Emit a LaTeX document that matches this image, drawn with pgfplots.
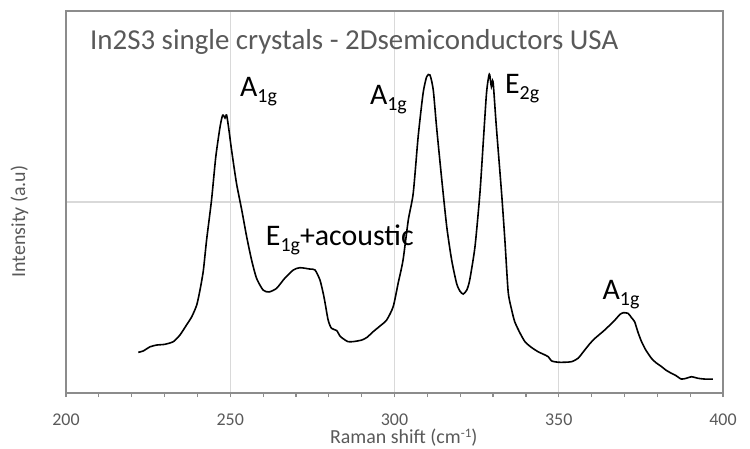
\documentclass[border=0pt]{standalone}
\usepackage{pgfplots}
\pgfplotsset{compat=1.18}
\usepackage{fontspec}
\setmainfont{Carlito}
\definecolor{gridc}{HTML}{D9D9D9}
\definecolor{framec}{HTML}{8C8C8C}
\definecolor{textc}{HTML}{595959}
\newcommand\sub[1]{\raisebox{-6bp}{\fontsize{20}{22}\selectfont #1}}
\pgfplotstableread{
x y
222.0 0.213
223.5 0.220
225.6 0.242
227.6 0.251
230.1 0.255
232.7 0.269
234.7 0.304
236.5 0.351
238.3 0.400
239.8 0.461
240.8 0.540
241.8 0.640
242.8 0.801
244.3 1.010
245.6 1.237
246.9 1.394
247.7 1.455
248.4 1.440
248.9 1.455
249.6 1.377
250.4 1.272
251.9 1.098
253.5 0.958
255.0 0.818
256.5 0.696
258.0 0.601
260.0 0.539
261.8 0.529
264.1 0.548
266.6 0.601
269.2 0.644
271.2 0.656
274.2 0.649
275.8 0.644
277.3 0.592
278.3 0.522
278.8 0.478
279.8 0.382
280.8 0.339
282.4 0.327
283.4 0.298
284.4 0.284
285.8 0.269
287.4 0.269
290.0 0.277
291.6 0.291
293.5 0.321
295.6 0.351
297.6 0.382
299.6 0.452
301.1 0.574
302.6 0.696
304.2 0.906
305.7 1.046
307.2 1.342
308.7 1.569
309.8 1.656
310.8 1.665
311.8 1.586
312.8 1.394
314.3 1.132
315.9 0.871
317.4 0.696
318.9 0.574
319.9 0.534
320.9 0.518
322.0 0.539
322.9 0.592
324.5 0.766
326.0 1.046
327.0 1.308
328.0 1.569
328.7 1.660
329.0 1.665
329.5 1.604
330.0 1.630
331.0 1.394
332.6 1.046
333.6 0.801
334.6 0.530
335.6 0.440
336.6 0.373
338.2 0.314
339.7 0.269
341.5 0.241
343.7 0.216
345.2 0.204
346.8 0.190
347.8 0.168
349.8 0.161
351.8 0.161
353.9 0.164
355.9 0.182
357.9 0.225
359.5 0.259
361.0 0.286
364.0 0.330
367.1 0.382
368.6 0.411
369.6 0.420
371.1 0.417
372.2 0.393
373.1 0.373
374.1 0.319
375.2 0.269
376.5 0.225
378.2 0.182
379.5 0.160
381.3 0.138
382.6 0.120
384.3 0.103
385.6 0.092
387.3 0.073
388.8 0.077
390.4 0.085
392.4 0.077
394.4 0.073
396.9 0.073
}\ramandata
\begin{document}
\begin{tikzpicture}
\begin{axis}[
  at={(66bp,56bp)}, anchor=south west,
  scale only axis, width=657bp, height=382bp,
  xmin=200, xmax=400, ymin=0, ymax=2,
  xtick={200,250,...,400},
  minor xtick={210,220,...,390},
  xtick pos=bottom,
  tick align=outside,
  major tick length=4bp, minor tick length=4bp,
  ytick={1}, yticklabels={}, ytick style={draw=none},
  xmajorgrids, ymajorgrids,
  major grid style={draw=gridc, line width=1.2bp},
  axis line style={draw=framec, line width=1.6bp},
  tick style={draw=framec, line width=1.2bp},
  /pgf/number format/assume math mode=true,
  /pgf/number format/1000 sep={},
  xticklabel style={font=\fontsize{18}{20}\selectfont, text=textc, anchor=base, inner sep=0pt, yshift=-28bp},
  typeset ticklabels with strut=false,
  xlabel={Raman shift (cm\raisebox{6bp}{\fontsize{13}{14}\selectfont -1})},
  xlabel style={font=\fontsize{20}{22}\selectfont, text=textc, at={(axis description cs:0.514,-0.131)}, anchor=base, inner sep=0pt},
  ylabel={Intensity (a.u)},
  ylabel style={font=\fontsize{20}{22}\selectfont, text=textc, at={(axis description cs:-0.0624,0.449)}, anchor=base, rotate=0, inner sep=0pt},
  clip=false,
]
\addplot[black, line width=1.6bp, smooth, tension=0.4] table[x=x, y=y] {\ramandata};
\node[anchor=base west, inner sep=0pt, text=textc, font=\fontsize{29}{32}\selectfont] at (axis cs:207.3,1.796) {In2S3 single crystals - 2Dsemiconductors USA};
\node[anchor=base west, inner sep=0pt, font=\fontsize{30}{32}\selectfont] at (axis cs:252.95,1.551) {A\sub{1g}};
\node[anchor=base west, inner sep=0pt, font=\fontsize{30}{32}\selectfont] at (axis cs:292.5,1.508) {A\sub{1g}};
\node[anchor=base west, inner sep=0pt, font=\fontsize{30}{32}\selectfont] at (axis cs:333.6,1.569) {E\sub{2g}};
\node[anchor=base west, inner sep=0pt, font=\fontsize{30}{32}\selectfont] at (axis cs:260.8,0.770) {E\sub{1g}+acoustic};
\node[anchor=base west, inner sep=0pt, font=\fontsize{30}{32}\selectfont] at (axis cs:363.3,0.492) {A\sub{1g}};
\end{axis}
\pgfresetboundingbox
\path[use as bounding box] (0,0) rectangle (750bp,449bp);
\end{tikzpicture}
\end{document}
